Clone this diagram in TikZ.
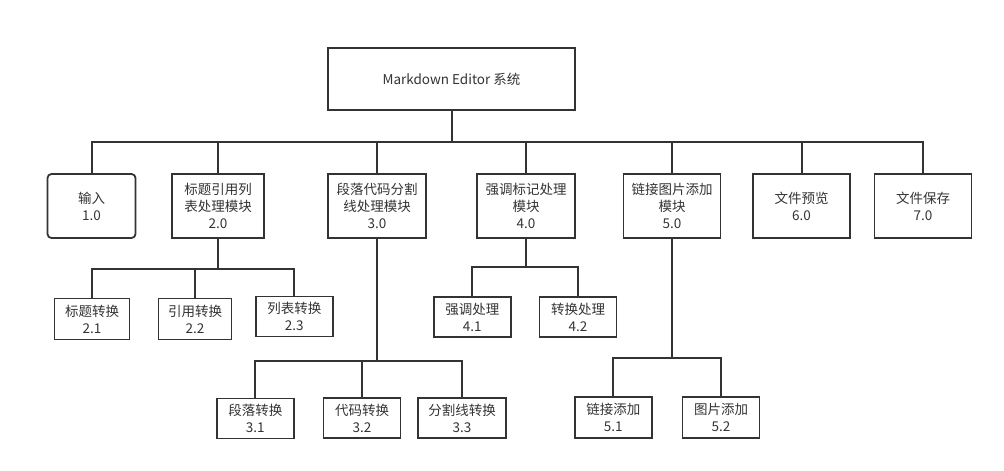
\documentclass[tikz,border=0pt]{standalone}
\usepackage{fontspec}
\setmainfont{Noto Sans CJK SC}
\usepackage{xcolor}
\definecolor{ink}{HTML}{333333}

\begin{document}
\begin{tikzpicture}[x=1pt,y=-1pt,
  box/.style={draw=ink,line width=1.8pt,text=ink,align=center,inner sep=0pt,
    font=\fontsize{13.5}{17}\selectfont},
  top/.style={box,minimum width=97pt,minimum height=64pt},
  sub/.style={box,minimum width=77pt,minimum height=40pt},
  link/.style={draw=ink,line width=2pt}]
\useasboundingbox (0,0) rectangle (1004,471);

\node[box,minimum width=247pt,minimum height=62pt](r) at (451.5,79){Markdown Editor 系统};
\node[top,minimum width=88pt,rounded corners=4pt](n10) at (91.5,206){输入\\1.0};
\node[top,minimum width=92pt](n20) at (218,206){标题引用列\\表处理模块\\2.0};
\node[top,minimum width=98pt](n30) at (377,206){段落代码分割\\线处理模块\\3.0};
\node[top,minimum width=98pt](n40) at (526,206){强调标记处理\\模块\\4.0};
\node[top](n50) at (672,206){链接图片添加\\模块\\5.0};
\node[top](n60) at (801.5,206){文件预览\\6.0};
\node[top](n70) at (923,206){文件保存\\7.0};

\node[sub,minimum width=75pt,minimum height=41pt](n21) at (92,319){标题转换\\2.1};
\node[sub,minimum width=73pt,minimum height=41pt](n22) at (195,319){引用转换\\2.2};
\node[sub](n23) at (294.3,316.5){列表转换\\2.3};
\node[sub](n31) at (255.3,418.5){段落转换\\3.1};
\node[sub](n32) at (362,418){代码转换\\3.2};
\node[sub,minimum width=88pt](n33) at (462,418){分割线转换\\3.3};
\node[sub](n41) at (472.3,317){强调处理\\4.1};
\node[sub](n42) at (578,317){转换处理\\4.2};
\node[sub,minimum height=41pt](n51) at (613.3,417.5){链接添加\\5.1};
\node[sub,minimum height=41pt](n52) at (721,417.5){图片添加\\5.2};

\coordinate(b0) at (451.5,142);
\coordinate(b2) at (218,268.5);
\coordinate(b3) at (377,360.5);
\coordinate(b4) at (526,267);
\coordinate(b5) at (672,357.5);

% root to level one
\foreach \n in {n10,n20,n30,n40,n50,n60,n70}
  \draw[link](r)--(b0)-|(\n);
% sub modules
\foreach \n in {n21,n22,n23}
  \draw[link](n20)--(b2)-|(\n);
\foreach \n in {n31,n32,n33}
  \draw[link](n30)--(b3)-|(\n);
\foreach \n in {n41,n42}
  \draw[link](n40)--(b4)-|(\n);
\foreach \n in {n51,n52}
  \draw[link](n50)--(b5)-|(\n);
\end{tikzpicture}
\end{document}
